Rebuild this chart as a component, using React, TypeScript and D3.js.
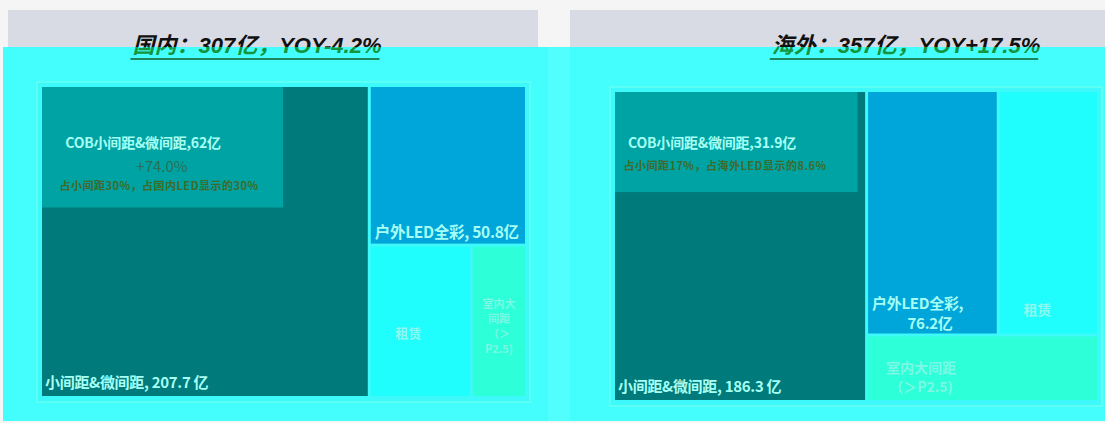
import React, { useRef, useEffect } from 'react';
import * as d3 from 'd3';

// 类别
const categories = ['小间距&微间距', '户外LED全彩', '租赁', '室内大间距（＞P2.5)'];
// 国内 / 海外 规模（亿）
const domesticValues = [207.7, 50.8, 31.5, 17.0];
const overseasValues = [186.3, 76.2, 58.0, 36.5];
// COB 小间距&微间距（亿）
const cobValues = [62, 31.9];
const cobGrowth = ['+74.0%', null];
const cobShares = ['占小间距30%，占国内LED显示的30%', '占小间距17%，占海外LED显示的8.6%'];
const titles = ['国内：307亿，YOY-4.2%', '海外：357亿，YOY+17.5%'];

const W = 1105;
const H = 423;
const FONT = '"Noto Sans CJK SC", "Noto Sans", sans-serif';
const TITLE_FONT = '"Liberation Sans", "Noto Sans CJK SC", sans-serif';

const colors = ['#007a7a', '#00a6da', '#20fdfd', '#2dffd8'];
const cobColor = '#00a3a3';
const labelColor = '#a6fff4';

const panels = [
  { x0: 42, y0: 87, x1: 525, y1: 396, titleX: 257, gray: [8, 538], cob: [0.74, 0.39] },
  { x0: 615, y0: 92, x1: 1097, y1: 400, titleX: 906, gray: [570, 1105], cob: [0.97, 0.325] },
];

const App = () => {
  const svgRef = useRef(null);

  useEffect(() => {
    document.body.style.margin = '0';
    const svg = d3.select(svgRef.current);
    svg.selectAll('*').remove();
    svg.attr('width', W).attr('height', H).attr('viewBox', [0, 0, W, H]);

    svg.append('rect').attr('width', W).attr('height', H).attr('fill', '#f5f5f5');

    const defs = svg.append('defs');
    defs.append('clipPath').attr('id', 'below')
      .append('rect').attr('x', 0).attr('y', 47).attr('width', W).attr('height', H);

    const title = (i, fill, clip) => {
      const t = svg.append('text').attr('x', panels[i].titleX).attr('y', 53)
        .attr('text-anchor', 'middle').attr('font-family', TITLE_FONT)
        .attr('font-size', 22).attr('font-weight', 'bold').attr('font-style', 'italic')
        .attr('fill', fill).text(titles[i]);
      if (clip) t.attr('clip-path', 'url(#below)');
      return t;
    };

    // gray header panels + black titles
    panels.forEach((p, i) => {
      svg.append('rect').attr('x', p.gray[0]).attr('y', 10)
        .attr('width', p.gray[1] - p.gray[0]).attr('height', 40).attr('fill', '#d8dbe4');
      title(i, '#111', false);
    });

    // cyan overlay
    svg.append('rect').attr('x', 3).attr('y', 47).attr('width', W - 3).attr('height', 374).attr('fill', '#44fefe');
    svg.append('rect').attr('x', 548).attr('y', 47).attr('width', 22).attr('height', 374).attr('fill', '#52ffff');

    panels.forEach((p, i) => {
      const t = title(i, '#14953e', true);
      const w = t.node().getComputedTextLength();
      svg.append('line')
        .attr('x1', p.titleX - w / 2 - 2).attr('x2', p.titleX + w / 2 - 2)
        .attr('y1', 59).attr('y2', 59)
        .attr('stroke', '#0e5f28').attr('stroke-width', 1.5);
    });

    const makeTree = (vals, i) => {
      const leaf = k => ({ name: categories[k], value: vals[k], k });
      if (i === 0) {
        return { children: [leaf(0), { children: [leaf(1), { children: [leaf(2), leaf(3)] }] }] };
      }
      return { children: [leaf(0), { children: [{ children: [leaf(1), leaf(2)] }, leaf(3)] }] };
    };

    [domesticValues, overseasValues].forEach((vals, i) => {
      const p = panels[i];
      const root = d3.hierarchy(makeTree(vals, i)).sum(d => d.value || 0);
      d3.treemap()
        .tile(d3.treemapSliceDice)
        .size([p.x1 - p.x0, p.y1 - p.y0])
        .paddingInner(3)(root);

      const g = svg.append('g').attr('transform', `translate(${p.x0},${p.y0})`);

      g.append('rect').attr('x', -5).attr('y', -5)
        .attr('width', p.x1 - p.x0 + 10).attr('height', p.y1 - p.y0 + 11)
        .attr('fill', '#3ef9f9').attr('stroke', '#66fff2').attr('stroke-width', 1.5);

      const leaves = root.leaves();
      g.selectAll('rect.tile').data(leaves).join('rect')
        .attr('class', 'tile')
        .attr('x', d => d.x0).attr('y', d => d.y0)
        .attr('width', d => d.x1 - d.x0).attr('height', d => d.y1 - d.y0)
        .attr('fill', d => colors[d.data.k]);

      const big = leaves.find(d => d.data.k === 0);
      const bx = d3.scaleLinear().range([big.x0, big.x1]);
      const by = d3.scaleLinear().range([big.y0, big.y1]);
      g.append('rect').attr('x', bx(0)).attr('y', by(0))
        .attr('width', bx(p.cob[0]) - bx(0)).attr('height', by(p.cob[1]) - by(0))
        .attr('fill', cobColor);

      const txt = (x, y, s, size, fill, weight = 'bold', anchor = 'start', ls = 0) =>
        g.append('text').attr('x', x).attr('y', y).attr('font-family', FONT)
          .attr('font-size', size).attr('font-weight', weight).attr('fill', fill)
          .attr('letter-spacing', ls)
          .attr('text-anchor', anchor).text(s);

      // big tile label
      txt(big.x0 + 3, big.y1 - 8, `${categories[0]}, ${vals[0]} 亿`, 15, labelColor, 'bold', 'start', -0.3);

      // COB labels (in local coordinates of the panel group)
      if (i === 0) {
        txt(143 - p.x0, 148 - p.y0, `COB小间距&微间距,${cobValues[i]}亿`, 14, labelColor, 'bold', 'middle', -0.2);
        txt(162 - p.x0, 172 - p.y0, cobGrowth[i], 15, '#2b6f56', 'normal', 'middle');
        txt(159 - p.x0, 190 - p.y0, cobShares[i], 11, '#3d6b2c', 'bold', 'middle', 0.5);
      } else {
        txt(712 - p.x0, 148 - p.y0, `COB小间距&微间距,${cobValues[i]}亿`, 14, labelColor, 'bold', 'middle', -0.2);
        txt(725 - p.x0, 170 - p.y0, cobShares[i], 11, '#3d6b2c', 'bold', 'middle', 0.5);
      }

      const out = leaves.find(d => d.data.k === 1);
      const ren = leaves.find(d => d.data.k === 2);
      const ind = leaves.find(d => d.data.k === 3);
      const mid = d => (d.x0 + d.x1) / 2;

      if (i === 0) {
        txt(out.x0 + 4, out.y1 - 6, `${categories[1]}, ${vals[1]}亿`, 15.5, labelColor, 'bold', 'start', -0.3);
        txt(mid(ren) - 12, 338 - p.y0, categories[2], 13, '#8ff8ee', 'bold', 'middle');
        ['室内大', '间距', '（＞', 'P2.5)'].forEach((s, j) =>
          txt(mid(ind), 308 - p.y0 + j * 15, s, 11, '#7cf8e4', 'bold', 'middle'));
      } else {
        txt(out.x0 + 4, 309 - p.y0, `${categories[1]},`, 15, labelColor, 'bold', 'start', -0.3);
        txt(930 - p.x0, 329 - p.y0, `${vals[1]}亿`, 15, labelColor, 'bold', 'middle', -0.3);
        txt(mid(ren) - 11, 315 - p.y0, categories[2], 14, '#8ff8ee', 'bold', 'middle');
        txt(921 - p.x0, 373 - p.y0, '室内大间距', 14, '#7cf8e4', 'bold', 'middle');
        txt(921 - p.x0, 392 - p.y0, '（＞P2.5)', 14, '#7cf8e4', 'bold', 'middle');
      }
    });
  }, []);

  return <svg ref={svgRef} style={{ display: 'block' }}></svg>;
};

export default App;
